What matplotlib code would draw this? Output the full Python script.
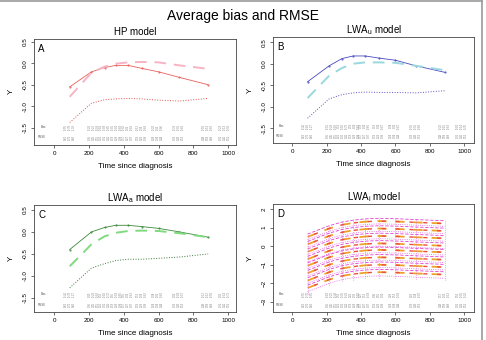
import numpy as np
import matplotlib
matplotlib.use('Agg')
from matplotlib import pyplot as plt
from matplotlib.lines import Line2D

plt.rcParams['font.family'] = ['Liberation Sans', 'DejaVu Sans']

# time points (days since diagnosis)
times = [90, 215, 290, 355, 425, 505, 600, 720, 885]
col_x = [90, 230, 293, 362, 425, 505, 598, 718, 885, 983]

# panel A: HP model
hp_solid = [-0.55, -0.20, -0.10, -0.05, -0.05, -0.12, -0.20, -0.33, -0.50]
hp_dash = [-0.78, -0.22, -0.08, -0.01, 0.02, 0.03, 0.02, -0.05, -0.13]
hp_dot = [-1.38, -0.93, -0.85, -0.83, -0.82, -0.83, -0.86, -0.88, -0.82]

# panel B: LWA_u model
lu_solid = [-0.42, -0.05, 0.12, 0.18, 0.18, 0.13, 0.08, -0.05, -0.20]
lu_dash = [-0.80, -0.28, -0.10, 0.00, 0.03, 0.03, 0.02, -0.05, -0.15]
lu_dot = [-1.27, -0.82, -0.72, -0.68, -0.66, -0.67, -0.67, -0.68, -0.63]

# panel C: LWA_a model
la_solid = [-0.40, 0.00, 0.10, 0.15, 0.15, 0.12, 0.08, 0.00, -0.12]
la_dash = [-0.78, -0.28, -0.10, -0.02, 0.02, 0.03, 0.02, -0.03, -0.12]
la_dot = [-1.27, -0.82, -0.72, -0.65, -0.62, -0.62, -0.60, -0.57, -0.50]

# panel D: LWA_i model, one row per subject group
li_solid = [
    [0.65, 1.10, 1.30, 1.40, 1.47, 1.50, 1.48, 1.43, 1.37],
    [0.25, 0.70, 0.90, 1.00, 1.07, 1.10, 1.08, 1.03, 0.97],
    [-0.15, 0.30, 0.50, 0.60, 0.67, 0.70, 0.68, 0.63, 0.57],
    [-0.55, -0.10, 0.10, 0.20, 0.27, 0.30, 0.28, 0.23, 0.17],
    [-0.90, -0.45, -0.25, -0.15, -0.08, -0.05, -0.07, -0.12, -0.18],
    [-1.30, -0.85, -0.65, -0.55, -0.48, -0.45, -0.47, -0.52, -0.58],
    [-1.70, -1.25, -1.05, -0.95, -0.88, -0.85, -0.87, -0.92, -0.98],
    [-2.10, -1.65, -1.45, -1.35, -1.28, -1.25, -1.27, -1.32, -1.38],
]
li_dash = [
    [0.50, 0.95, 1.15, 1.25, 1.32, 1.35, 1.33, 1.28, 1.22],
    [0.10, 0.55, 0.75, 0.85, 0.92, 0.95, 0.93, 0.88, 0.82],
    [-0.30, 0.15, 0.35, 0.45, 0.52, 0.55, 0.53, 0.48, 0.42],
    [-0.70, -0.25, -0.05, 0.05, 0.12, 0.15, 0.13, 0.08, 0.02],
    [-1.05, -0.60, -0.40, -0.30, -0.23, -0.20, -0.22, -0.27, -0.33],
    [-1.45, -1.00, -0.80, -0.70, -0.63, -0.60, -0.62, -0.67, -0.73],
    [-1.85, -1.40, -1.20, -1.10, -1.03, -1.00, -1.02, -1.07, -1.13],
    [-2.25, -1.80, -1.60, -1.50, -1.43, -1.40, -1.42, -1.47, -1.53],
]
li_dot = [
    [0.35, 0.80, 1.00, 1.10, 1.17, 1.20, 1.18, 1.13, 1.07],
    [-0.05, 0.40, 0.60, 0.70, 0.77, 0.80, 0.78, 0.73, 0.67],
    [-0.45, 0.00, 0.20, 0.30, 0.37, 0.40, 0.38, 0.33, 0.27],
    [-0.85, -0.40, -0.20, -0.10, -0.03, 0.00, -0.02, -0.07, -0.13],
    [-1.20, -0.75, -0.55, -0.45, -0.38, -0.35, -0.37, -0.42, -0.48],
    [-1.60, -1.15, -0.95, -0.85, -0.78, -0.75, -0.77, -0.82, -0.88],
    [-2.00, -1.55, -1.35, -1.25, -1.18, -1.15, -1.17, -1.22, -1.28],
    [-2.45, -2.00, -1.80, -1.70, -1.63, -1.60, -1.62, -1.67, -1.73],
]

# RMSE row of the small tables (values too small to read, estimated)
rmse_vals = [0.62, 0.35, 0.21, 0.18, 0.17, 0.19, 0.24, 0.33, 0.48, 0.31]

titles = ['HP model', 'LWA$_\\mathregular{u}$ model', 'LWA$_\\mathregular{a}$ model',
          'LWA$_\\mathregular{i}$ model']
letters = ['A', 'B', 'C', 'D']

fig = plt.figure(figsize=(4.86, 3.40), dpi=100)

# outer frame
fig.add_artist(Line2D([0, 0.991], [0.997, 0.997], color='#999999', lw=1.2,
                      transform=fig.transFigure))
fig.add_artist(Line2D([0.991, 0.991], [0.0, 0.997], color='#999999', lw=1.2,
                      transform=fig.transFigure))

fig.text(0.5, 0.952, 'Average bias and RMSE', ha='center', va='center', fontsize=10)

positions = [[0.070, 0.574, 0.416, 0.312], [0.562, 0.579, 0.414, 0.312],
             [0.070, 0.082, 0.416, 0.315], [0.562, 0.082, 0.414, 0.318]]
xlims = [(-115, 1046), (-110, 1058), (-115, 1046), (-110, 1058)]
ylims = [(-1.9, 0.57), (-1.85, 0.62), (-1.82, 0.61), (-3.55, 2.27)]
yticks = [[-1.5, -1.0, -0.5, 0.0, 0.5]] * 3 + [[-3, -2, -1, 0, 1, 2]]

axes = []
for i in range(4):
    ax = fig.add_axes(positions[i])
    ax.set_xlim(*xlims[i])
    ax.set_ylim(*ylims[i])
    ax.set_xticks([0, 200, 400, 600, 800, 1000])
    ax.set_yticks(yticks[i])
    if i < 3:
        ax.set_yticklabels(['%.1f' % v for v in yticks[i]])
    ax.tick_params(labelsize=4.5, length=2.5, width=0.5, pad=2, color='#333333')
    for lab in ax.get_yticklabels():
        lab.set_rotation(90)
        lab.set_va('center')
    for s in ax.spines.values():
        s.set_linewidth(0.6)
        s.set_color('#444444')
    ax.set_title(titles[i], fontsize=7, pad=3)
    ax.set_xlabel('Time since diagnosis', fontsize=5.8, labelpad=5)
    ax.set_ylabel('Y', fontsize=5.8, labelpad=6)
    ax.text(0.02, 0.95, letters[i], transform=ax.transAxes, fontsize=7, va='top')
    axes.append(ax)

def draw_set(ax, solid, dash, dot, c1, c2, c3):
    ax.plot(times, solid, color=c1, lw=0.6, marker='.', ms=1.0)
    ax.plot(times, dash, color=c2, lw=1.4, ls=(0, (6, 4)))
    ax.plot(times, dot, color=c3, lw=0.7, ls=':')

draw_set(axes[0], hp_solid, hp_dash, hp_dot, '#e8605c', '#f6b4c4', '#e0504c')
draw_set(axes[1], lu_solid, lu_dash, lu_dot, '#4a4ac0', '#9ad8de', '#6a4cc4')
draw_set(axes[2], la_solid, la_dash, la_dot, '#3a8a3a', '#80da80', '#3a7a3a')

axd = axes[3]
for k in range(len(li_dash)):
    axd.plot(times, li_solid[k], color='#e040d0', lw=0.6, ls=(0, (4, 2)))
    axd.plot(times, li_dash[k], color='#f0a028', lw=1.3, ls=(0, (5, 5)))
    axd.plot(times, li_dash[k], color='#e85040', lw=1.0, ls=(5, (3, 7)))
    axd.plot(times, li_dot[k], color='#e060e0', lw=0.6, ls=':')
for j, t in enumerate(times):
    axd.plot([t, t], [li_dot[-1][j] - 0.1, li_solid[0][j] + 0.05], color='#e060e0',
             lw=0.5, ls=':')

# bias / RMSE tables at the bottom of each panel
bias_sets = [(hp_solid, hp_dash, hp_dot), (lu_solid, lu_dash, lu_dot),
             (la_solid, la_dash, la_dot), (li_solid[3], li_dash[3], li_dot[3])]
for i, ax in enumerate(axes):
    lo, hi = ylims[i]
    span = hi - lo
    y1 = lo + span * 0.165
    y2 = lo + span * 0.07
    ax.text(-45, y1, 'Bias', fontsize=2.0, ha='right', va='center', color='#555555')
    ax.text(-45, y2, 'RMSE', fontsize=2.0, ha='right', va='center', color='#555555')
    a, b, c = bias_sets[i]
    for j, x in enumerate(col_x):
        if j < len(times):
            vals = (a[j], b[j], c[j])
        else:
            vals = (np.mean(a), np.mean(b), np.mean(c))
        ax.text(x, y1, '\n'.join('%.2f' % v for v in vals), rotation=90,
                fontsize=1.8, linespacing=1.0, ha='center', va='center',
                color='#777777')
        ax.text(x, y2, '\n'.join('%.2f' % (rmse_vals[j] + 0.1 * m) for m in range(3)),
                rotation=90, fontsize=1.8, linespacing=1.0, ha='center', va='center',
                color='#777777')

fig.savefig('out.png', dpi=100)
